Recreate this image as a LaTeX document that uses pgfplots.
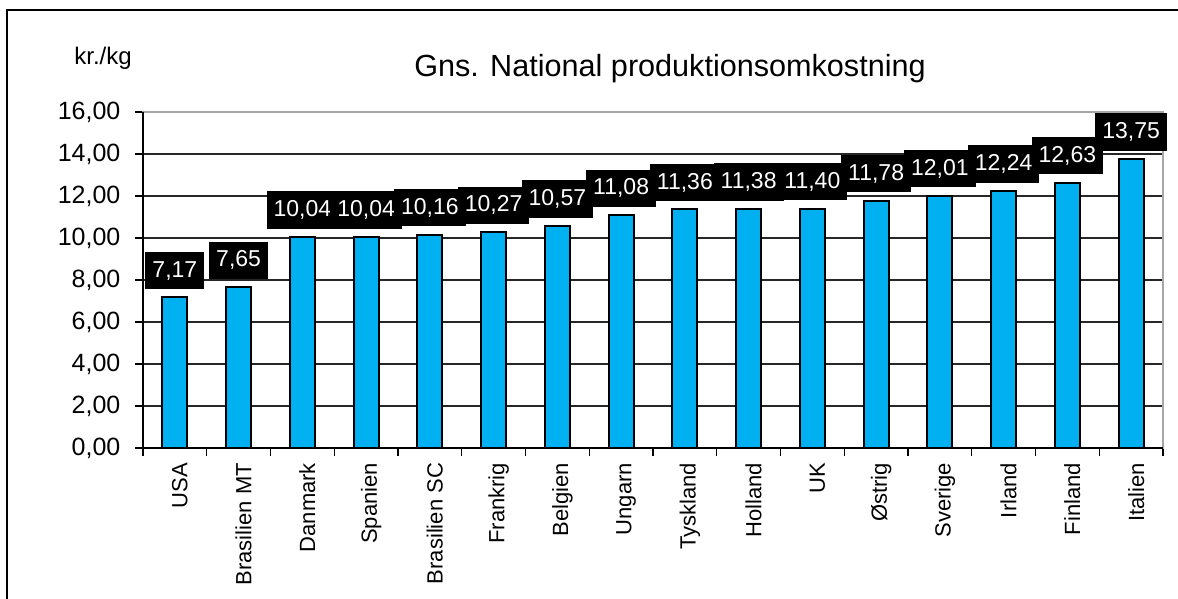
\documentclass[border=0pt]{standalone}
\usepackage{fontspec}
\setmainfont{Liberation Sans}
\usepackage{pgfplots}
\pgfplotsset{compat=1.18}
\definecolor{barblue}{RGB}{0,176,240}

\begin{document}
\begin{tikzpicture}
  \useasboundingbox (0pt,0pt) rectangle (589pt,299.5pt);
  \draw[line width=0.7pt] (3.5pt,0pt) -- (3.5pt,294.5pt) -- (589pt,294.5pt);
  \node[anchor=base, inner sep=0pt, font=\fontsize{15.3}{18}\selectfont] at (335pt,261pt)
    {Gns. National produktionsomkostning};
  \node[anchor=base west, inner sep=0pt, font=\fontsize{12}{14}\selectfont] at (37pt,267pt) {kr./kg};
  \begin{axis}[
      at={(71.5pt,75.5pt)}, anchor=south west,
      scale only axis, width=510pt, height=168pt,
      ybar, bar width=12.5pt,
      xmin=-0.5, xmax=15.5, ymin=0, ymax=16,
      ytick={0,2,...,16},
      xtick={-0.5,0.5,...,15.5},
      x tick label as interval,
      xticklabels={USA,Brasilien MT,Danmark,Spanien,Brasilien SC,Frankrig,Belgien,Ungarn,
        Tyskland,Holland,UK,Østrig,Sverige,Irland,Finland,Italien},
      xtick pos=bottom, ytick pos=left,
      tick align=outside, major tick length=4pt,
      tick style={black, line width=0.6pt},
      axis line style={gray!70, line width=0.8pt},
      ymajorgrids, grid style={black!85, line width=0.55pt},
      /pgf/number format/.cd, use comma, fixed, fixed zerofill, precision=2, 1000 sep={},
        assume math mode=true,
      /pgfplots/.cd,
      yticklabel style={font=\fontsize{12.5}{14}\selectfont, xshift=-3.8pt},
      x tick label style={font=\fontsize{11}{13}\selectfont, rotate=90, anchor=east, yshift=-2.5pt},
      clip=false,
      nodes near coords,
      every node near coord/.append style={fill=black, text=white,
        font=\fontsize{11.5}{13}\selectfont, inner xsep=3.5pt, inner ysep=4.5pt,
        text height=8.2pt, text depth=1.5pt, anchor=south, yshift=3.7pt},
    ]
    \addplot[fill=barblue, draw=black, line width=1pt] coordinates {
      (0,7.17) (1,7.65) (2,10.04) (3,10.04) (4,10.16) (5,10.27) (6,10.57) (7,11.08)
      (8,11.36) (9,11.38) (10,11.40) (11,11.78) (12,12.01) (13,12.24) (14,12.63) (15,13.75)
    };
    \draw[black, line width=0.8pt] (rel axis cs:0,1) -- (rel axis cs:0,0) -- (rel axis cs:1,0);
  \end{axis}
\end{tikzpicture}
\end{document}
